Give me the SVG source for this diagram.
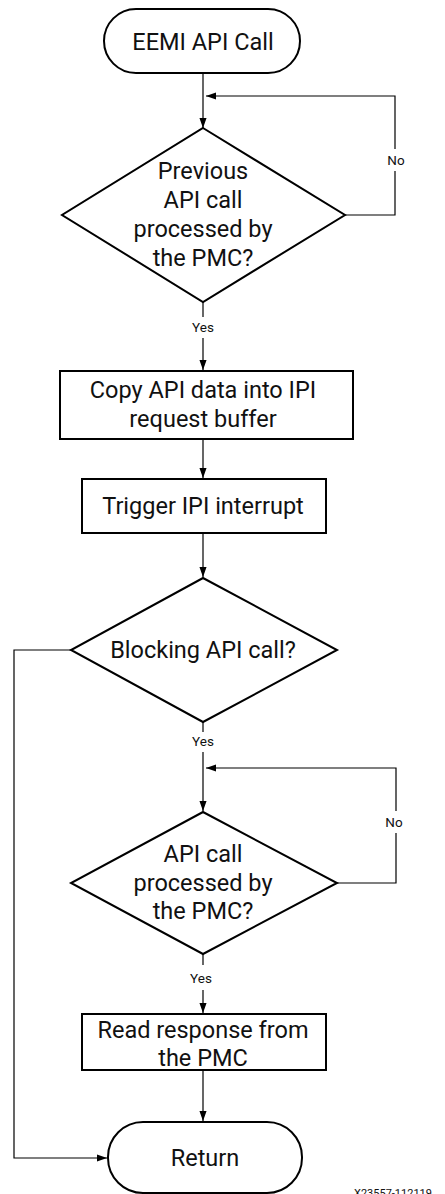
<svg xmlns="http://www.w3.org/2000/svg" width="445" height="1194" viewBox="0 0 445 1194">
<style>
.shape{fill:#fff;stroke:#000;stroke-width:2}
.t{font-family:Roboto,"Liberation Sans",sans-serif;font-size:23.5px;fill:#111;text-anchor:middle}
.lbl{font-family:Roboto,"Liberation Sans",sans-serif;font-size:13.5px;fill:#111;text-anchor:middle}
.c{fill:none;stroke:#000;stroke-width:1.2}
</style>
<defs>
<marker id="ah" markerWidth="10" markerHeight="14" refX="14" refY="5" viewBox="0 0 14 10" orient="auto" markerUnits="userSpaceOnUse">
<path d="M0,0 L14,5 L0,10 Z" fill="#000"/>
</marker>
</defs>
<rect width="445" height="1194" fill="#fff"/>
<g id="connectors">
<path class="c" d="M203,73 V128" marker-end="url(#ah)"/>
<path class="c" d="M345,215 H395 V96 H206" marker-end="url(#ah)"/>
<path class="c" d="M203,302 V317"/>
<path class="c" d="M203,338 V370" marker-end="url(#ah)"/>
<path class="c" d="M203,439 V478" marker-end="url(#ah)"/>
<path class="c" d="M203,533 V577" marker-end="url(#ah)"/>
<path class="c" d="M71,650 H14 V1158 H107" marker-end="url(#ah)"/>
<path class="c" d="M203,722 V732"/>
<path class="c" d="M203,752 V811" marker-end="url(#ah)"/>
<path class="c" d="M337,883 H396 V768 H206" marker-end="url(#ah)"/>
<path class="c" d="M203,954 V965"/>
<path class="c" d="M203,990 V1013" marker-end="url(#ah)"/>
<path class="c" d="M203,1070 V1121" marker-end="url(#ah)"/>
<rect x="384" y="149" width="22" height="22" fill="#fff"/>
<rect x="383" y="811" width="22" height="22" fill="#fff"/>
<text class="lbl" x="396" y="165">No</text>
<text class="lbl" x="394" y="827">No</text>
<text class="lbl" x="203" y="332">Yes</text>
<text class="lbl" x="203" y="746">Yes</text>
<text class="lbl" x="201" y="983">Yes</text>
</g>
<g id="start">
<rect class="shape" x="104" y="9" width="196" height="64" rx="32" ry="32"/>
<text class="t" x="203" y="50">EEMI API Call</text>
</g>
<g id="decision1">
<polygon class="shape" points="203,128 345,215 203,302 62,215"/>
<text class="t" x="203" y="179">Previous</text>
<text class="t" x="203" y="208">API call</text>
<text class="t" x="203" y="237">processed by</text>
<text class="t" x="203" y="266">the PMC?</text>
</g>
<g id="copy">
<rect class="shape" x="60" y="371" width="293" height="68"/>
<text class="t" x="203" y="398">Copy API data into IPI</text>
<text class="t" x="203" y="427">request buffer</text>
</g>
<g id="trigger">
<rect class="shape" x="82" y="479" width="244" height="54"/>
<text class="t" x="203" y="514">Trigger IPI interrupt</text>
</g>
<g id="decision2">
<polygon class="shape" points="203,578 337,650 203,722 71,650"/>
<text class="t" x="203" y="658">Blocking API call?</text>
</g>
<g id="decision3">
<polygon class="shape" points="203,812 337,883 203,954 71,883"/>
<text class="t" x="203" y="862">API call</text>
<text class="t" x="203" y="891">processed by</text>
<text class="t" x="203" y="919">the PMC?</text>
</g>
<g id="read">
<rect class="shape" x="82" y="1014" width="244" height="56"/>
<text class="t" x="203" y="1038">Read response from</text>
<text class="t" x="203" y="1066">the PMC</text>
</g>
<g id="return">
<rect class="shape" x="108" y="1122" width="194" height="71" rx="35" ry="35"/>
<text class="t" x="205" y="1166">Return</text>
</g>
<text x="354" y="1197" font-family="Roboto,'Liberation Sans',sans-serif" font-size="11px" fill="#111">X23557-112119</text>
</svg>
